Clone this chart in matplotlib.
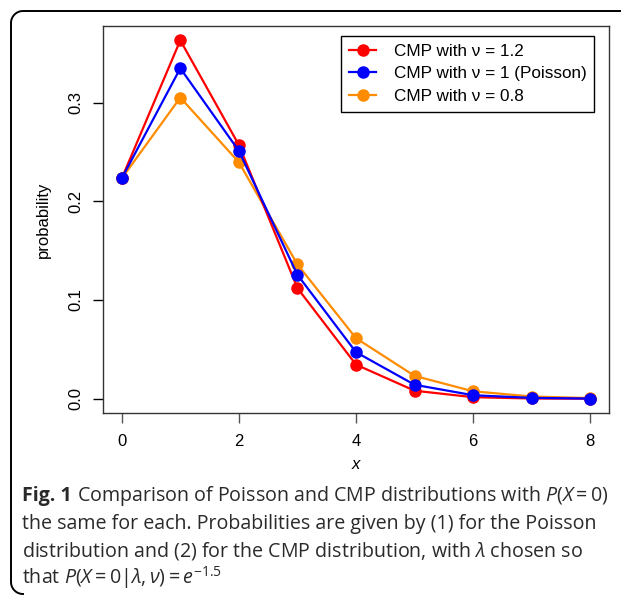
import numpy as np
import matplotlib
matplotlib.use('Agg')
import matplotlib.pyplot as plt
from matplotlib.lines import Line2D

# values
x = [0, 1, 2, 3, 4, 5, 6, 7, 8]
p_12 = [0.2231, 0.3630, 0.2570, 0.1120, 0.0345, 0.0081, 0.0015, 0.0002, 0.0000]
p_10 = [0.2231, 0.3347, 0.2510, 0.1255, 0.0471, 0.0141, 0.0035, 0.0008, 0.0001]
p_08 = [0.2231, 0.3050, 0.2395, 0.1360, 0.0613, 0.0231, 0.0075, 0.0022, 0.0006]
labels = ['CMP with \u03bd = 1.2', 'CMP with \u03bd = 1 (Poisson)', 'CMP with \u03bd = 0.8']
colors = ['#ff0000', '#0000ff', '#ff8c00']
xticks = [0, 2, 4, 6, 8]
yticks = [0.0, 0.1, 0.2, 0.3]

plt.rcParams['font.family'] = ['Liberation Sans', 'DejaVu Sans']
plt.rcParams['mathtext.fontset'] = 'custom'
plt.rcParams['mathtext.rm'] = 'Open Sans'
plt.rcParams['mathtext.it'] = 'Open Sans:italic'
plt.rcParams['mathtext.bf'] = 'Open Sans:bold'

W, H = 621, 596
fig = plt.figure(figsize=(W / 100, H / 100), dpi=100)

# outer frame: top and left edges with rounded corners (pixel coords, y down)
r = 12
th = np.linspace(0, np.pi / 2, 20)
px = [W + 5]
py = [11]
for t in th:
    px.append(11 + r - r * np.sin(t))
    py.append(11 + r - r * np.cos(t))
for t in th[::-1]:
    px.append(11 + r - r * np.sin(t))
    py.append(H - 2 - r + r * np.cos(t))
fig.add_artist(Line2D([p / W for p in px], [1 - q / H for q in py],
                      transform=fig.transFigure, color='black', lw=1.4))

ax = fig.add_axes([103 / W, 1 - 413 / H, (609 - 103) / W, (413 - 26) / H])

ax.plot(x, p_08, '-o', color=colors[2], lw=1.6, ms=8, label=labels[2], zorder=3)
ax.plot(x, p_12, '-o', color=colors[0], lw=1.6, ms=8, label=labels[0], zorder=4)
ax.plot(x, p_10, '-o', color=colors[1], lw=1.6, ms=8, label=labels[1], zorder=5)

ax.set_xlim(-0.32, 8.32)
ax.set_ylim(-0.0145, 0.3775)
ax.set_xticks(xticks)
ax.set_yticks(yticks)
ax.set_yticklabels(['0.0', '0.1', '0.2', '0.3'], rotation=90, va='center')
ax.tick_params(axis='both', direction='out', length=7, width=1, labelsize=12, pad=7)
ax.tick_params(axis='x', color='#555555', pad=8)
for s in ax.spines.values():
    s.set_linewidth(1)
    s.set_color('#333333')

ax.set_xlabel('x', style='italic', fontsize=12, labelpad=6)
ax.set_ylabel('probability', fontsize=12, labelpad=13)

h, l = ax.get_legend_handles_labels()
order = [1, 2, 0]
leg = ax.legend([h[i] for i in order], [l[i] for i in order],
                loc='upper right', bbox_to_anchor=(594 / W, 1 - 36 / H),
                bbox_transform=fig.transFigure, fancybox=False, framealpha=1,
                edgecolor='black', fontsize=12.3, handlelength=1.6,
                labelspacing=0.45, borderpad=0.45, handletextpad=1.0,
                borderaxespad=0)
leg.get_frame().set_linewidth(1)

# caption
cap = [' Comparison of Poisson and CMP distributions with $P(X = 0)$',
       'the same for each. Probabilities are given by (1) for the Poisson',
       r'distribution and (2) for the CMP distribution, with $\lambda$ chosen so',
       r'that $P(X = 0|\lambda, \nu) = e^{-1.5}$']
ys = [496, 524, 551, 578]
cfs = 14.1
ccol = '#2a2a2a'
fig.canvas.draw()
rend = fig.canvas.get_renderer()
bold = fig.text(22 / W, 1 - ys[0] / H, 'Fig. 1', fontsize=cfs, family='Open Sans',
                weight='bold', va='center', ha='left', color=ccol)
bb = bold.get_window_extent(rend)
for i, (t, yy) in enumerate(zip(cap, ys)):
    x0 = bb.x1 / W if i == 0 else 22 / W
    fig.text(x0, 1 - yy / H, t, fontsize=cfs, family='Open Sans',
             va='center', ha='left', color=ccol)

fig.savefig('out.png', dpi=100)
